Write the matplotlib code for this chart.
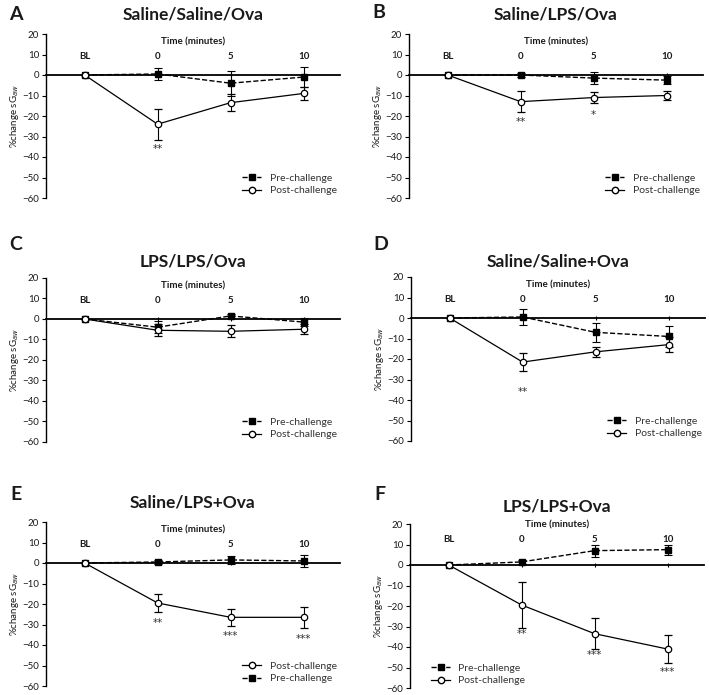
import matplotlib
matplotlib.use("Agg")
import matplotlib.pyplot as plt
from matplotlib.lines import Line2D

plt.rcParams['font.family'] = ['Lato', 'DejaVu Sans']

# Data
time_labels = ['BL', '0', '5', '10']
x = [0, 1, 2, 3]

letters = ['A', 'B', 'C', 'D', 'E', 'F']
titles = ['Saline/Saline/Ova', 'Saline/LPS/Ova', 'LPS/LPS/Ova',
          'Saline/Saline+Ova', 'Saline/LPS+Ova', 'LPS/LPS+Ova']

pre_mean = [[0, 0.5, -4, -1],
            [0, 0, -1.5, -2.5],
            [0, -4, 1.5, -1.5],
            [0, 0.5, -7, -9],
            [0, 0.5, 1.5, 1],
            [0, 1.5, 7, 7.5]]
pre_err = [[0, 3, 6, 5],
           [0, 1, 3, 2],
           [0, 3, 1, 2],
           [0, 4, 4.5, 5],
           [0, 1, 2, 3],
           [0, 1, 3, 2.5]]
post_mean = [[0, -24, -13.5, -9],
             [0, -13, -11, -10],
             [0, -5.5, -6, -5],
             [0, -21.5, -16.5, -13],
             [0, -19.5, -26.5, -26.5],
             [0, -19.5, -33.5, -41]]
post_err = [[0, 7.5, 4, 3],
            [0, 5, 2.5, 2],
            [0, 3, 3, 2.5],
            [0, 4.5, 2.5, 3.5],
            [0, 4.5, 4, 5],
            [0, 11, 7.5, 7]]
# significance marks: (time index, y value, text)
stars = [[(1, -36, '**')],
         [(1, -23, '**'), (2, -19.5, '*')],
         [],
         [(1, -36, '**')],
         [(1, -29.5, '**'), (2, -35.5, '***'), (3, -37, '***')],
         [(1, -33.5, '**'), (2, -44, '***'), (3, -52, '***')]]

W, H = 709, 695
fig = plt.figure(figsize=(W / 100, H / 100), dpi=100)

# axes left / top in pixels
panel_px = [(46, 34), (409, 34), (46, 278), (411, 277), (46, 522), (410, 524)]
title_y = [15, 15, 262, 262, 503, 507]
letter_y = [15, 12, 245, 245, 495, 495]
label_y = [9, 9, 9, 9, 9, 12.5]
ax_w, ax_h = 294, 164
ink = '#1a1a1a'

for i in range(6):
    left, top = panel_px[i]
    ax = fig.add_axes([left / W, 1 - (top + ax_h) / H, ax_w / W, ax_h / H])
    ax.set_xlim(-0.53, 3.5)
    ax.set_ylim(-60, 20)

    ax.spines['top'].set_visible(False)
    ax.spines['right'].set_visible(False)
    ax.spines['bottom'].set_position(('data', 0))
    ax.spines['bottom'].set_linewidth(1.3)
    ax.spines['left'].set_linewidth(1.0)
    ax.set_yticks(range(-60, 21, 10))
    ax.tick_params(axis='y', labelsize=7, length=3, width=0.8, pad=2, labelcolor=ink)
    ax.set_xticks(x[1:])
    ax.tick_params(axis='x', labelbottom=False, length=3, width=0.8, direction='inout')
    ax.set_ylabel('%change sG$_{aw}$', fontsize=7, labelpad=1, color=ink)

    for xi, lab in zip(x, time_labels):
        ax.text(xi, label_y[i], lab, ha='center', va='center', fontsize=7,
                fontweight='bold', color=ink)
    ax.text(1.48, label_y[i] + 7, 'Time (minutes)', ha='center', va='center',
            fontsize=7, fontweight='bold', color=ink)

    ax.errorbar(x, pre_mean[i], yerr=pre_err[i], color='black', ls='--', lw=1.0,
                marker='s', ms=4.2, mfc='black', mec='black', capsize=3,
                elinewidth=0.8, capthick=0.8, clip_on=False, zorder=3)
    ax.errorbar(x, post_mean[i], yerr=post_err[i], color='black', ls='-', lw=0.9,
                marker='o', ms=4.6, mfc='white', mec='black', mew=0.9, capsize=3,
                elinewidth=0.8, capthick=0.8, clip_on=False, zorder=4)

    for xi, yv, s in stars[i]:
        ax.text(xi, yv, s, ha='center', va='center', fontsize=7.5,
                family='DejaVu Sans', color='#333333')

    pre_h = Line2D([], [], color='black', ls='--', lw=1.0, marker='s', ms=4.2)
    post_h = Line2D([], [], color='black', ls='-', lw=0.9, marker='o', ms=4.6,
                    mfc='white', mec='black')
    if i == 4:
        handles, labels = [post_h, pre_h], ['Post-challenge', 'Pre-challenge']
    else:
        handles, labels = [pre_h, post_h], ['Pre-challenge', 'Post-challenge']
    if i == 5:
        leg = ax.legend(handles, labels, loc='lower left', bbox_to_anchor=(0.04, -0.04),
                        frameon=False, fontsize=7.5, handlelength=1.8, labelspacing=0.3)
    else:
        leg = ax.legend(handles, labels, loc='lower right', bbox_to_anchor=(1.02, -0.04),
                        frameon=False, fontsize=7.5, handlelength=1.8, labelspacing=0.3)
    for t in leg.get_texts():
        t.set_color('#333333')

    fig.text((left + ax_w / 2) / W, 1 - title_y[i] / H, titles[i], ha='center',
             va='center', fontsize=12.5, fontweight='bold', color=ink)
    fig.text((left - 30) / W, 1 - letter_y[i] / H, letters[i], ha='center',
             va='center', fontsize=14, fontweight='bold', color=ink)

fig.savefig('out.png', dpi=100)
